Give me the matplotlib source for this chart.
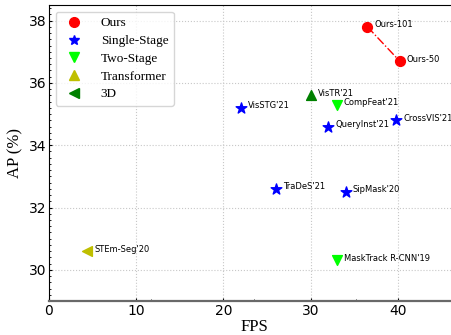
import matplotlib
matplotlib.use("Agg")
import numpy as np
import matplotlib.pyplot as plt
from matplotlib.lines import Line2D
from matplotlib.ticker import AutoMinorLocator, FixedLocator

# ---- data ----
ours_names = ["Ours-101", "Ours-50"]
ours_fps = [36.5, 40.2]
ours_ap = [37.8, 36.7]

single_names = ["VisSTG'21", "QueryInst'21", "CrossVIS'21", "TraDeS'21", "SipMask'20"]
single_fps = [22.0, 32.0, 39.8, 26.0, 34.0]
single_ap = [35.2, 34.6, 34.8, 32.6, 32.5]

two_names = ["CompFeat'21", "MaskTrack R-CNN'19"]
two_fps = [33.0, 33.0]
two_ap = [35.3, 30.3]

trans_names = ["VisTR'21"]
trans_fps = [30.0]
trans_ap = [35.6]

td_names = ["STEm-Seg'20"]
td_fps = [4.4]
td_ap = [30.6]

legend_labels = ["Ours", "Single-Stage", "Two-Stage", "Transformer", "3D"]

fig = plt.figure(figsize=(4.52, 3.35), dpi=100)
# axes runs a little past the right edge of the figure (cropped like the original)
ax = fig.add_axes([49/452, 1-301/335, 410/452, (301-5)/335])

ax.plot(ours_fps, ours_ap, color='red', linestyle='-.', linewidth=1, zorder=2)
ax.scatter(ours_fps, ours_ap, color='red', marker='o', s=50, zorder=3)
ax.scatter(single_fps, single_ap, color='blue', marker='*', s=65, zorder=3)
ax.scatter(two_fps, two_ap, color='lime', marker='v', s=50, zorder=3)
ax.scatter(trans_fps, trans_ap, color='green', marker='^', s=50, zorder=3)
ax.scatter(td_fps, td_ap, color='y', marker='<', s=50, zorder=3)

names = ours_names + single_names + two_names + trans_names + td_names
xs = ours_fps + single_fps + two_fps + trans_fps + td_fps
ys = ours_ap + single_ap + two_ap + trans_ap + td_ap
for n, x, y in zip(names, xs, ys):
    ax.annotate(n, (x, y), xytext=(5, 1.5), textcoords='offset points', fontsize=6,
                va='center', ha='left')

ax.set_xlim(0, 47)
ax.set_ylim(29, 38.5)
ax.set_xticks([0, 10, 20, 30, 40])
ax.set_yticks([30, 32, 34, 36, 38])
ax.xaxis.set_minor_locator(FixedLocator(np.linspace(0, 47, 5)))
ax.yaxis.set_minor_locator(AutoMinorLocator(10))
ax.grid(True, linestyle=':', color='#c8c8c8', linewidth=0.8)
ax.spines['bottom'].set_color('dimgray')
ax.spines['bottom'].set_linewidth(1.6)
ax.tick_params(which='both', direction='in', labelsize=10)
ax.tick_params(which='major', length=2.5, pad=2)
ax.tick_params(which='minor', length=1.5)

font_label = {'family': 'Liberation Serif', 'size': 12}
ax.set_xlabel('FPS', font_label, labelpad=1)
ax.set_ylabel('AP (%)', font_label, labelpad=4)

handles = [
    Line2D([], [], color='red', marker='o', linestyle='None', markersize=7),
    Line2D([], [], color='blue', marker='*', linestyle='None', markersize=7.5),
    Line2D([], [], color='lime', marker='v', linestyle='None', markersize=7),
    Line2D([], [], color='y', marker='^', linestyle='None', markersize=7),
    Line2D([], [], color='green', marker='<', linestyle='None', markersize=7),
]
ax.legend(handles, legend_labels, loc='upper left', prop={'family': 'Liberation Serif', 'size': 9.5},
          frameon=True, handletextpad=1.0, borderpad=0.42, labelspacing=0.42)

fig.savefig('out.png', dpi=100)
